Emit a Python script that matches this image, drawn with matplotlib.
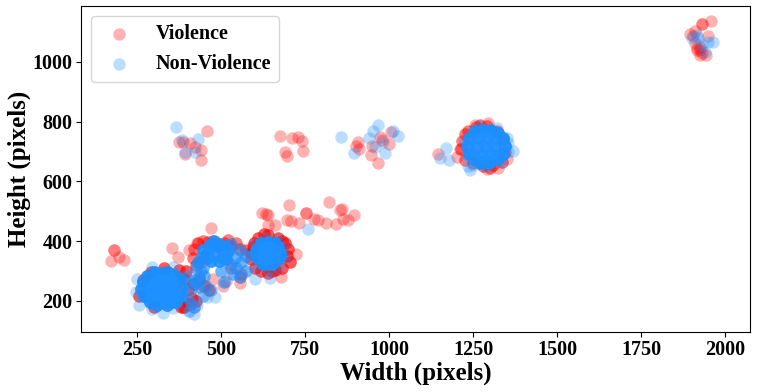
import numpy as np
import matplotlib
matplotlib.use('Agg')
import matplotlib.pyplot as plt

# violence, loose points
vio_w = [459, 376, 408, 423, 441, 393, 439, 388, 674, 712, 730, 740, 745, 691, 697,
         906, 900, 910, 945, 968, 950, 973, 1006, 1001, 978,
         703, 621, 641, 633, 641, 660, 697, 707, 733, 754, 754, 775, 788, 811, 822, 841, 854, 860, 864, 879, 894,
         180, 180, 173, 195, 212, 355, 372, 471, 405, 429, 722, 677, 555, 557, 505, 475, 514, 388, 418,
         1144, 1203, 1350, 1291, 1323, 1256, 1293, 1211,
         1958, 1931, 1931, 1911, 1896, 1950, 1924, 1942, 1916, 1911, 1926, 1905, 1926, 1916, 1932]
vio_h = [768, 732, 728, 714, 705, 691, 671, 733, 751, 745, 748, 736, 701, 697, 684,
         733, 719, 707, 688, 661, 717, 747, 764, 724, 739,
         520, 493, 487, 491, 454, 454, 471, 467, 460, 493, 493, 473, 471, 460, 530, 457, 505, 508, 473, 471, 487,
         372, 372, 333, 348, 336, 376, 346, 444, 371, 395, 356, 281, 259, 281, 251, 274, 268, 181, 181,
         692, 680, 675, 643, 646, 789, 795, 708,
         1136, 1126, 1126, 1105, 1094, 1085, 1023, 1023, 1040, 1063, 1051, 1085, 1040, 1045, 1030]

# violence, crowded groups
red_low_w = [268, 290, 330, 375, 390, 402, 412, 405, 390, 300, 255, 418, 435, 450, 465, 425, 395, 380]
red_low_h = [270, 298, 310, 305, 275, 240, 210, 190, 178, 178, 215, 255, 275, 250, 235, 200, 300, 180]
red_mid_w = [420, 430, 445, 460, 475, 490, 510, 530, 555, 575, 440, 530, 560, 415, 425, 450, 545, 520]
red_mid_h = [375, 395, 402, 398, 400, 385, 395, 385, 375, 370, 330, 310, 290, 345, 320, 350, 395, 405]
red_640_w = [595, 590, 600, 620, 640, 660, 680, 695, 700, 690, 670, 640, 610, 588, 598, 705, 650, 628, 680]
red_640_h = [380, 340, 310, 300, 295, 305, 310, 350, 375, 395, 410, 420, 410, 360, 395, 330, 300, 425, 400]
red_1280_w = [1225, 1215, 1225, 1250, 1280, 1310, 1335, 1345, 1340, 1320, 1290, 1260, 1235, 1218, 1300, 1270]
red_1280_h = [760, 710, 670, 660, 650, 655, 665, 700, 740, 770, 785, 782, 770, 735, 645, 790]

# non violence, loose points
non_w = [367, 385, 430, 393, 423, 856, 894, 966, 951, 941, 1011, 1026, 988, 958, 981, 760,
         602, 644, 483, 457, 418, 326, 257, 295, 358, 251, 247, 294, 358, 428,
         1168, 1152, 1178, 1241, 1236, 1368, 1355,
         1965, 1901, 1920, 1950, 1941, 1931, 1916]
non_h = [781, 737, 742, 700, 698, 748, 694, 788, 768, 744, 769, 751, 694, 714, 733, 440,
         272, 278, 212, 214, 156, 161, 188, 312, 315, 274, 229, 174, 175, 187,
         711, 678, 671, 638, 650, 701, 728,
         1066, 1079, 1079, 1068, 1034, 1056, 1091]

# non violence, crowded groups
blue_big_w = [300, 325, 350, 275, 295, 315, 335, 355, 375, 285, 305, 325, 345, 365, 285, 305, 325, 345, 365,
              280, 300, 320, 340, 360, 378, 305, 325, 345,
              385, 378, 360, 340, 300, 280, 268, 262, 270, 288, 310, 340, 365, 380]
blue_big_h = [195, 195, 195, 215, 215, 215, 215, 215, 215, 235, 235, 235, 235, 235, 255, 255, 255, 255, 255,
              275, 275, 275, 275, 275, 275, 295, 295, 295,
              245, 275, 288, 298, 298, 285, 265, 240, 215, 198, 188, 188, 198, 215]
blue_low_w = [400, 410, 420, 410, 420, 435, 430, 440, 425, 455, 470, 445, 395, 405]
blue_low_h = [210, 190, 180, 240, 260, 280, 330, 300, 265, 250, 235, 215, 285, 165]
blue_mid_w = [465, 485, 505, 458, 480, 506, 470, 495, 480, 470, 495, 458, 506, 445, 520, 515, 512]
blue_mid_h = [385, 385, 385, 360, 360, 360, 335, 335, 400, 392, 392, 345, 345, 370, 370, 340, 385]
blue_side_w = [430, 445, 520, 540, 555, 525, 545, 420, 435, 575, 510, 535, 555, 575, 500, 530, 560, 440, 425, 450]
blue_side_h = [330, 310, 365, 345, 370, 325, 310, 270, 245, 350, 265, 290, 280, 300, 300, 390, 330, 345, 310, 285]
blue_640_w = [620, 640, 660, 605, 625, 645, 665, 675, 610, 630, 650, 670, 625, 650,
              675, 668, 655, 640, 622, 610, 605, 610, 622, 640, 658, 670]
blue_640_h = [395, 395, 395, 370, 370, 370, 370, 350, 345, 345, 345, 345, 325, 325,
              360, 380, 392, 396, 392, 378, 360, 342, 330, 324, 330, 342]
blue_640_out_w = [690, 685, 665, 630, 600, 592, 605, 640, 670]
blue_640_out_h = [345, 380, 405, 410, 390, 350, 318, 305, 315]
blue_1280_w = [1255, 1280, 1305, 1265, 1290, 1315, 1262, 1288, 1312, 1250, 1275, 1300, 1322, 1270, 1295,
               1345, 1340, 1325, 1300, 1275, 1252, 1238, 1232, 1238, 1252, 1275, 1300, 1325, 1340]
blue_1280_h = [770, 770, 770, 745, 745, 745, 715, 715, 715, 685, 685, 685, 685, 660, 660,
               718, 745, 762, 772, 772, 764, 745, 718, 692, 674, 665, 665, 674, 692]
blue_1280_out_w = [1225, 1232, 1250, 1290, 1335, 1355, 1352, 1320, 1270]
blue_1280_out_h = [735, 690, 655, 650, 665, 700, 745, 780, 785]

x_ticks = [250, 500, 750, 1000, 1250, 1500, 1750, 2000]
y_ticks = [200, 400, 600, 800, 1000]

plt.rcParams['font.family'] = ['Liberation Serif']
plt.rcParams['font.weight'] = 'bold'

fig = plt.figure(figsize=(7.57, 3.92), dpi=100)
ax = fig.add_axes([81 / 757, 1 - 332 / 392, 669 / 757, 326 / 392])

# repeated sizes are common in this data, so crowded spots are stacked
all_vio_w = np.concatenate([vio_w, np.repeat(red_low_w, 3), np.repeat(red_mid_w, 2),
                            np.repeat(red_640_w, 3), np.repeat(red_1280_w, 2)])
all_vio_h = np.concatenate([vio_h, np.repeat(red_low_h, 3), np.repeat(red_mid_h, 2),
                            np.repeat(red_640_h, 3), np.repeat(red_1280_h, 2)])
all_non_w = np.concatenate([non_w, np.repeat(blue_big_w, 8), np.repeat(blue_low_w, 2), np.repeat(blue_mid_w, 6),
                            np.repeat(blue_side_w, 3), np.repeat(blue_640_w, 8), blue_640_out_w,
                            np.repeat(blue_1280_w, 8), blue_1280_out_w])
all_non_h = np.concatenate([non_h, np.repeat(blue_big_h, 8), np.repeat(blue_low_h, 2), np.repeat(blue_mid_h, 6),
                            np.repeat(blue_side_h, 3), np.repeat(blue_640_h, 8), blue_640_out_h,
                            np.repeat(blue_1280_h, 8), blue_1280_out_h])

ax.scatter(all_vio_w, all_vio_h, s=80, c='red', alpha=0.3, linewidths=0, label='Violence')
ax.scatter(all_non_w, all_non_h, s=80, c='dodgerblue', alpha=0.3, linewidths=0, label='Non-Violence')

ax.set_xlim(83, 2074)
ax.set_ylim(96, 1187)
ax.set_xticks(x_ticks)
ax.set_yticks(y_ticks)
ax.tick_params(labelsize=14.5, pad=2.5)
ax.set_xlabel('Width (pixels)', fontsize=18, fontweight='bold', labelpad=1)
ax.set_ylabel('Height (pixels)', fontsize=18, fontweight='bold', labelpad=1)
ax.legend(loc='upper left', fontsize=14.5, borderaxespad=0.5)

fig.savefig('out.png', dpi=100)
